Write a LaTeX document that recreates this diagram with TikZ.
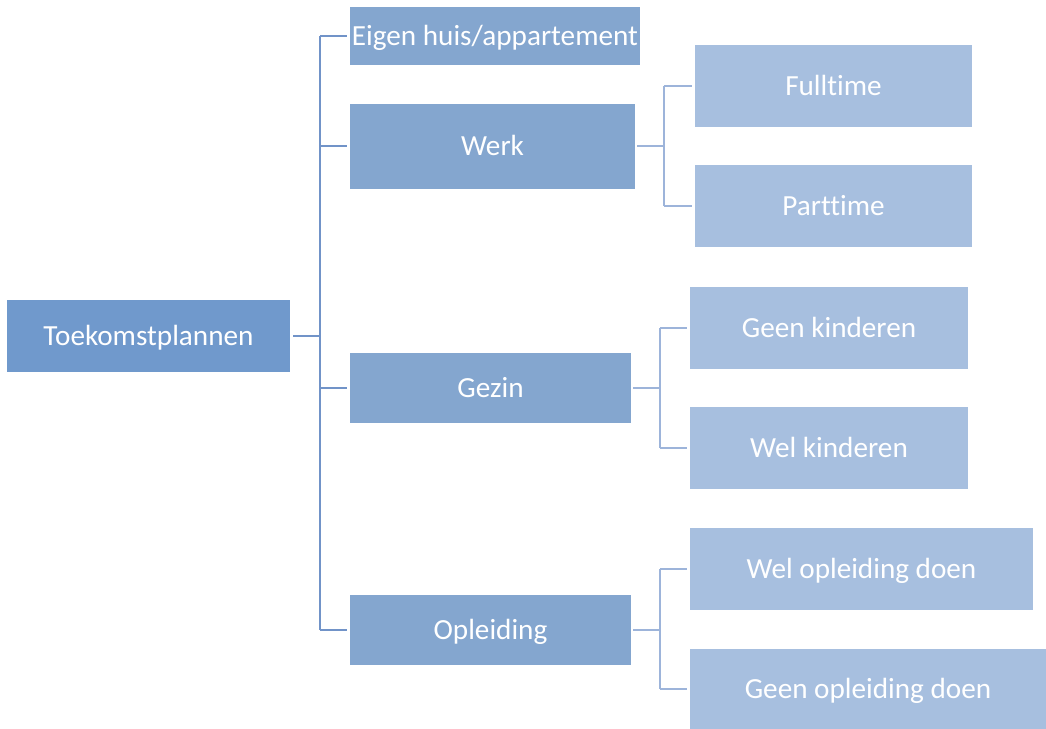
\documentclass[tikz,border=0pt]{standalone}
\usepackage{fontspec}
\setmainfont{Carlito}[Ligatures={NoCommon}]
\usetikzlibrary{positioning,calc}

\definecolor{wortel}{HTML}{7099CC}
\definecolor{tak}{HTML}{84A6CF}
\definecolor{blad}{HTML}{A7BFDF}
\definecolor{lijn}{HTML}{7193C8}
\definecolor{lijnlicht}{HTML}{9DB4DA}

\begin{document}
\begin{tikzpicture}[
    x=0.5pt, y=-0.5pt,
    doos/.style={
        rectangle,
        inner sep=0pt,
        text height=9pt,
        text depth=0pt,
        text=white,
        font=\fontsize{14.6}{17}\selectfont
    },
    hoofd/.style={
        doos,
        fill=wortel,
        minimum width=141.5pt,
        minimum height=36pt
    },
    sub/.style={
        doos,
        fill=tak,
        minimum width=142.5pt
    },
    keuze/.style={
        doos,
        fill=blad,
        minimum height=41pt
    },
    verbind/.style={
        line width=1.2pt,
        draw=lijn
    },
    verbindlicht/.style={
        line width=1.2pt,
        draw=lijnlicht
    }
]
\useasboundingbox (0,0) rectangle (1046,729);

% Main node
\node[hoofd] (plan) at (148.5,336) {Toekomstplannen};

% Second level
\node[sub, minimum width=145pt, minimum height=29pt] (huis) at (495,36) {Eigen huis/appartement};
\node[sub, minimum height=42.5pt] (werk) at (492.5,146) {Werk};
\node[sub, minimum width=140.5pt, minimum height=35pt] (gezin) at (490.5,388) {Gezin};
\node[sub, minimum width=140.5pt, minimum height=35pt] (opl) at (490.5,630) {Opleiding};

% Third level
\node[keuze, minimum width=138.5pt] (full) at (833.5,86) {Fulltime};
\node[keuze, minimum width=138.5pt] (part) at (833.5,206) {Parttime};
\node[keuze, minimum width=139pt] (geenkind) at (829,328) {Geen kinderen};
\node[keuze, minimum width=139pt] (welkind) at (829,448) {Wel kinderen};
\node[keuze, minimum width=171.5pt] (welopl) at (861.5,569) {Wel opleiding doen};
\node[keuze, minimum width=178pt, minimum height=40pt] (geenopl) at (868,689) {Geen opleiding doen};

% Joints
\coordinate (stam) at (320,336);
\coordinate (werkstam) at (664,146);
\coordinate (gezinstam) at (660,388);
\coordinate (oplstam) at (660,630);

% Connectors from the main node
\draw[verbind, shorten <=1.5pt] (plan.east) -- (stam);
\draw[verbind] (stam |- huis) -- (stam |- opl);
\foreach \k in {huis,werk,gezin,opl}
    \draw[verbind, shorten >=1.5pt] (stam |- \k) -- (\k.west);

% Connectors to the choices
\draw[verbindlicht, shorten <=1pt] (werk.east) -- (werkstam);
\draw[verbindlicht] (werkstam |- full) -- (werkstam |- part);
\foreach \k in {full,part}
    \draw[verbindlicht, shorten >=1.5pt] (werkstam |- \k) -- (\k.west);

\draw[verbindlicht, shorten <=1pt] (gezin.east) -- (gezinstam);
\draw[verbindlicht] (gezinstam |- geenkind) -- (gezinstam |- welkind);
\foreach \k in {geenkind,welkind}
    \draw[verbindlicht, shorten >=1.5pt] (gezinstam |- \k) -- (\k.west);

\draw[verbindlicht, shorten <=1pt] (opl.east) -- (oplstam);
\draw[verbindlicht] (oplstam |- welopl) -- (oplstam |- geenopl);
\foreach \k in {welopl,geenopl}
    \draw[verbindlicht, shorten >=1.5pt] (oplstam |- \k) -- (\k.west);

\end{tikzpicture}
\end{document}
